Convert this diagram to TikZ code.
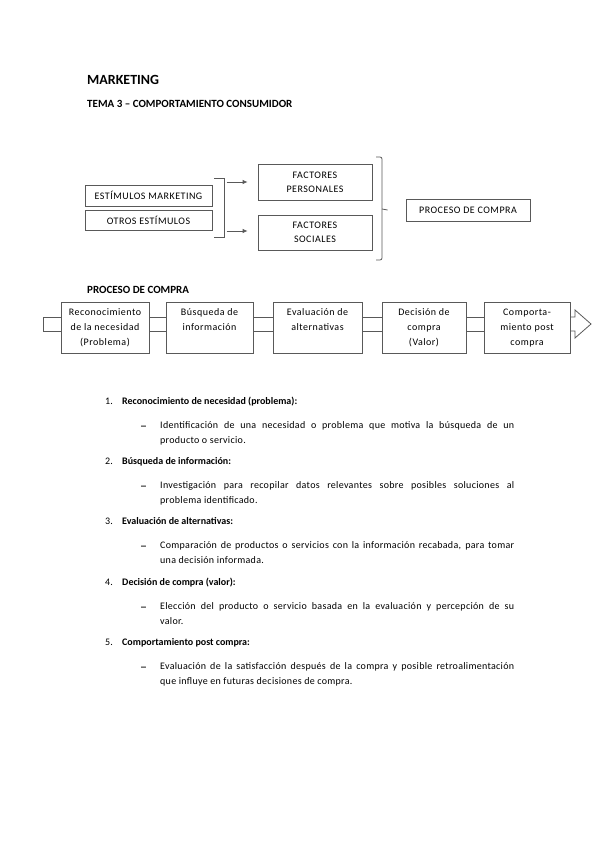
\documentclass[tikz,border=0pt]{standalone}
\usepackage{fontspec}
\setmainfont{Carlito}
\newfontfamily\boxfont{Carlito}[LetterSpace=5]
\newfontfamily\bodyfont{Carlito}[LetterSpace=3]
\usetikzlibrary{positioning,arrows.meta}
\definecolor{linegray}{gray}{0.35}

\tikzset{
  lbox/.style={draw=linegray, line width=0.8pt, fill=white, inner sep=0pt, align=center,
    font=\boxfont\fontsize{10}{14}\selectfont},
  stepbox/.style={draw=linegray, line width=0.8pt, fill=white, minimum width=#1,
    minimum height=51pt, inner sep=0pt},
  steptext/.style={inner sep=0pt, align=center, font=\boxfont\fontsize{10}{15}\selectfont},
  band/.style={draw=linegray, line width=0.8pt},
  arrow/.style={band, -{Latex[length=5pt,width=4.5pt]}},
  head/.style={anchor=base west, inner sep=0pt, font=\bfseries\fontsize{11}{13}\selectfont},
  num/.style={anchor=base west, inner sep=0pt, font=\fontsize{10}{14}\selectfont},
  itemdash/.style={anchor=base west, inner sep=0pt, yshift=-1.8pt,
    font=\fontsize{14}{14}\selectfont},
  itemtitle/.style={anchor=base west, inner sep=0pt, font=\bfseries\fontsize{10}{14}\selectfont},
  desc/.style={anchor=base west, inner sep=0pt, text width=354pt, align=justify,
    font=\bodyfont\fontsize{10}{14.5}\selectfont},
}

\begin{document}
\begin{tikzpicture}[x=1pt,y=-1pt]
  \useasboundingbox (0,0) rectangle (599,848);

  % titles
  \node[head, font=\bfseries\fontsize{14}{16}\selectfont] (titulo) at (87,85) {MARKETING};
  \node[head] (tema) at (87,108) {TEMA 3 – COMPORTAMIENTO CONSUMIDOR};

  % stimuli and factors
  \node[lbox, minimum width=127pt, minimum height=21pt] (em) at (148.5,195.5) {ESTÍMULOS MARKETING};
  \node[lbox, minimum width=127pt, minimum height=20pt] (oe) at (148.5,220) {OTROS ESTÍMULOS};
  \node[lbox, minimum width=114pt, minimum height=36pt] (fp) at (315,182) {FACTORES\\PERSONALES};
  \node[lbox, minimum width=114pt, minimum height=35pt] (fs) at (315,232.5) {FACTORES\\SOCIALES};
  \node[lbox, minimum width=124pt, minimum height=22pt] (pc) at (468,210) {PROCESO DE COMPRA};

  \coordinate (b1) at (224,178);
  \coordinate (b2) at (224,237);
  \draw[band] ([xshift=-10]b1) -- (b1) -- (b2) -- ([xshift=-10]b2);
  \draw[arrow] ([xshift=-31]fp.west) -- ([xshift=-10]fp.west);
  \draw[arrow] ([xshift=-31,yshift=1.5]fs.west) -- ([xshift=-10,yshift=1.5]fs.west);

  \coordinate (c1) at (382,157);
  \coordinate (c2) at (382,260);
  \draw[band, rounded corners=2pt] ([xshift=-6]c1) -- (c1) -- (c2) -- ([xshift=-6]c2);
  \draw[band] (382,209) -- ([xshift=-18]pc.west);

  % purchase process
  \node[head] (proc) at (87,293) {PROCESO DE COMPRA};
  \node[stepbox=88pt] (p1) at (105,327.5) {};
  \node[stepbox=87pt] (p2) at (209.5,327.5) {};
  \node[stepbox=89pt] (p3) at (317.5,327.5) {};
  \node[stepbox=84pt] (p4) at (424,327.5) {};
  \node[stepbox=86pt] (p5) at (527,327.5) {};
  \node[steptext, below=7pt of p1.north] {Reconocimiento\\de la necesidad\\(Problema)};
  \node[steptext, below=7pt of p2.north] {Búsqueda de\\información};
  \node[steptext, below=7pt of p3.north] {Evaluación de\\alternativas};
  \node[steptext, below=7pt of p4.north] {Decisión de\\compra\\(Valor)};
  \node[steptext, below=7pt of p5.north] {Comporta-\\miento post\\compra};

  \coordinate (bt) at (0,317);
  \coordinate (bb) at (0,331);
  \coordinate (start) at (43,0);
  \coordinate (hb) at (575,0);
  \coordinate (tip) at (591,324);
  \draw[band] (p1.west |- bt) -- (start |- bt) -- (start |- bb) -- (p1.west |- bb);
  \foreach \a/\b in {p1/p2,p2/p3,p3/p4,p4/p5} {
    \draw[band] (\a.east |- bt) -- (\b.west |- bt);
    \draw[band] (\a.east |- bb) -- (\b.west |- bb);
  }
  \draw[band] (p5.east |- bt) -- (hb |- bt) -- (575,310) -- (tip)
    -- (575,338) -- (hb |- bb) -- (p5.east |- bb);

  % list of steps
  \foreach \n/\y/\tit/\txt in {
    1/404.5/{Reconocimiento de necesidad (problema):}/{Identificación de una necesidad o problema que motiva la búsqueda de un\linebreak producto o servicio.},
    2/464.5/{Búsqueda de información:}/{Investigación para recopilar datos relevantes sobre posibles soluciones al\linebreak problema identificado.},
    3/524.5/{Evaluación de alternativas:}/{Comparación de productos o servicios con la información recabada, para tomar\linebreak una decisión informada.},
    4/585.5/{Decisión de compra (valor):}/{Elección del producto o servicio basada en la evaluación y percepción de su\linebreak valor.},
    5/645.5/{Comportamiento post compra:}/{Evaluación de la satisfacción después de la compra y posible retroalimentación\linebreak que influye en futuras decisiones de compra.}} {
    \node[num] (n\n) at (105,\y) {\n.};
    \node[itemtitle] (t\n) at (122,\y) {\tit};
    \node[itemdash] (d\n) at (140,\y+24) {–};
    \node[desc] (e\n) at (160,\y+24) {\txt};
  }
\end{tikzpicture}
\end{document}
